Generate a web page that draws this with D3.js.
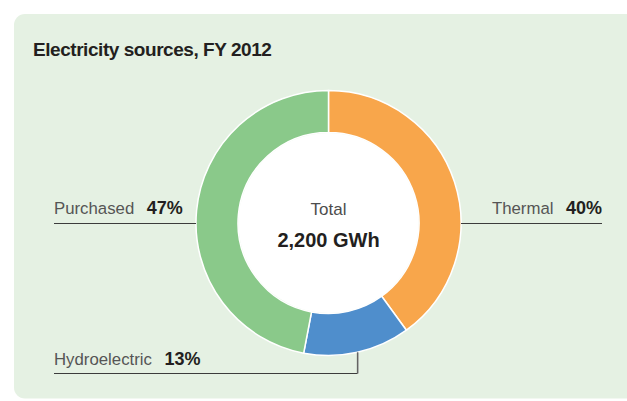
<!DOCTYPE html>
<html>
<head>
<meta charset="utf-8">
<script src="https://cdn.jsdelivr.net/npm/d3@7"></script>
<style>
  html, body { margin: 0; padding: 0; background: #ffffff; }
  svg { display: block; font-family: "Liberation Sans", Arial, Helvetica, sans-serif; }
</style>
</head>
<body>
<svg id="chart" width="627" height="401"></svg>
<script>
// ---- data ----
const title = "Electricity sources, FY 2012";
const categories = ["Thermal", "Hydroelectric", "Purchased"];
const shares = [40, 13, 47];
const colors = ["#F8A64B", "#4F8ECC", "#8AC98A"];
const centerCaption = "Total";
const centerValue = "2,200 GWh";

// ---- layout ----
const W = 627, H = 401;
const cx = 328.5, cy = 223;
const outerR = 132.5, innerR = 90.5;
const leftX = 54, rightX = 602;

const svg = d3.select("#chart");

svg.append("rect")
  .attr("x", 14).attr("y", 14)
  .attr("width", 700).attr("height", 384.5)
  .attr("rx", 11).attr("ry", 11)
  .attr("fill", "#E5F1E3");

svg.append("text")
  .attr("x", 33).attr("y", 56)
  .attr("font-size", 19)
  .attr("font-weight", "bold")
  .attr("letter-spacing", "-0.45")
  .attr("fill", "#231F20")
  .text(title);

const pie = d3.pie().sort(null).value(d => d)
  .startAngle(0).endAngle(2 * Math.PI);
const arcs = pie(shares);
const arc = d3.arc().innerRadius(innerR).outerRadius(outerR);

const g = svg.append("g").attr("transform", `translate(${cx},${cy})`);

g.selectAll("path")
  .data(arcs)
  .join("path")
  .attr("d", arc)
  .attr("fill", (d, i) => colors[i])
  .attr("stroke", "#ffffff")
  .attr("stroke-width", 1.5);

g.append("circle").attr("r", innerR - 0.5).attr("fill", "#ffffff");

g.append("text")
  .attr("text-anchor", "middle")
  .attr("y", -8)
  .attr("font-size", 17)
  .attr("fill", "#4D4D4D")
  .text(centerCaption);

g.append("text")
  .attr("text-anchor", "middle")
  .attr("y", 24)
  .attr("font-size", 20)
  .attr("font-weight", "bold")
  .attr("fill", "#231F20")
  .text(centerValue);

// ---- labels & leader lines ----
const lineColor = "#3C3C3C";
function label(x, y, anchor, name, pct) {
  const t = svg.append("text")
    .attr("x", x).attr("y", y)
    .attr("text-anchor", anchor);
  t.append("tspan")
    .attr("font-size", 16.8)
    .attr("fill", "#555555")
    .text(name);
  t.append("tspan")
    .attr("dx", 7.5)
    .attr("font-size", 18)
    .attr("font-weight", "bold")
    .attr("fill", "#231F20")
    .text(" " + pct + "%");
}

// Thermal (index 0) - right side
svg.append("line")
  .attr("x1", cx + outerR).attr("x2", rightX)
  .attr("y1", cy + 0.5).attr("y2", cy + 0.5)
  .attr("stroke", lineColor).attr("stroke-width", 1);
label(rightX, cy - 9, "end", categories[0], shares[0]);

// Purchased (index 2) - left side
svg.append("line")
  .attr("x1", leftX).attr("x2", cx - outerR)
  .attr("y1", cy + 0.5).attr("y2", cy + 0.5)
  .attr("stroke", lineColor).attr("stroke-width", 1);
label(leftX, cy - 9, "start", categories[2], shares[2]);

// Hydroelectric (index 1) - elbow leader from slice mid-angle
const hd = arcs[1];
const mid = (hd.startAngle + hd.endAngle) / 2;
const hx = cx + outerR * Math.sin(mid);
const hy = cy - outerR * Math.cos(mid);
const hLineY = 373.5;
svg.append("path")
  .attr("d", `M${hx},${hy}V${hLineY}H${leftX}`)
  .attr("fill", "none")
  .attr("stroke", lineColor).attr("stroke-width", 1);
svg.append("line")
  .attr("x1", hx + 0.8).attr("x2", hx + 0.8)
  .attr("y1", hy).attr("y2", hLineY)
  .attr("stroke", "#9a9a9a").attr("stroke-width", 1);
label(leftX, 365, "start", categories[1], shares[1]);
</script>
</body>
</html>
